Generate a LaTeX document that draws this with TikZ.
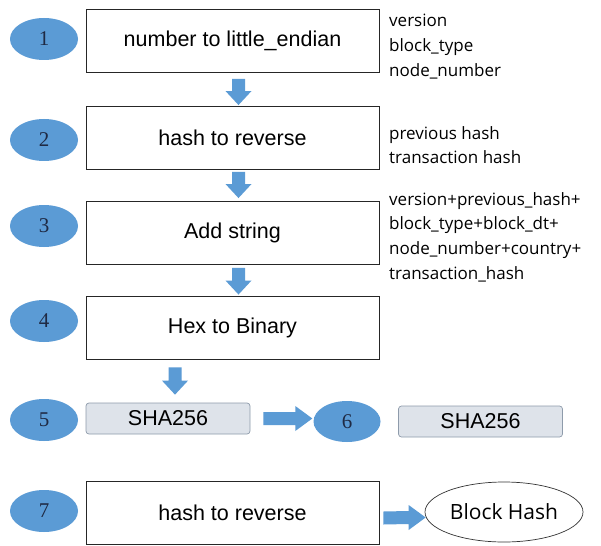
\documentclass[tikz,border=0pt]{standalone}
\usepackage{fontspec}
\setmainfont{Liberation Sans}
\newfontfamily\numfont{Liberation Serif}
\newfontfamily\sidefont{Open Sans}
\usetikzlibrary{calc,shapes.geometric}
\definecolor{ablue}{HTML}{5B9BD5}
\definecolor{numcol}{HTML}{1F2A44}
\definecolor{shafill}{HTML}{DEE3EA}
\definecolor{shaline}{HTML}{8E9BAB}
\tikzset{
  stepbox/.style={draw=black!85, line width=0.9pt, fill=white, minimum width=293pt, minimum height=63pt, inner sep=0pt, font=\fontsize{21.5}{24}\selectfont},
  numell/.style={ellipse, fill=ablue, minimum width=68pt, minimum height=42pt, inner sep=0pt, text=numcol, font=\numfont\fontsize{21}{24}\selectfont},
  shabox/.style={draw=shaline, line width=0.7pt, fill=shafill, rounded corners=3pt, minimum width=164pt, minimum height=31pt, inner sep=0pt, font=\fontsize{21.5}{24}\selectfont},
  sidetext/.style={anchor=north west, align=left, inner sep=0pt, font=\sidefont\fontsize{17}{24.7}\selectfont},
  downarrow/.style={fill=ablue, to path={
    ($(\tikztostart)+(-6.5,0)$) -- ($(\tikztotarget)+(-6.5,-14)$) -- ($(\tikztotarget)+(-13,-14)$) -- (\tikztotarget) -- ($(\tikztotarget)+(13,-14)$) -- ($(\tikztotarget)+(6.5,-14)$) -- ($(\tikztostart)+(6.5,0)$) -- cycle}},
  rightarrow/.style={fill=ablue, to path={
    ($(\tikztostart)+(0,-6.5)$) -- ($(\tikztotarget)+(-17,-6.5)$) -- ($(\tikztotarget)+(-17,-12.5)$) -- (\tikztotarget) -- ($(\tikztotarget)+(-17,12.5)$) -- ($(\tikztotarget)+(-17,6.5)$) -- ($(\tikztostart)+(0,6.5)$) -- cycle}}
}
\begin{document}
\begin{tikzpicture}[x=1pt,y=-1pt]
\useasboundingbox (0,0) rectangle (601,545);
\fill[white] (0,0) rectangle (601,545);

% step boxes
\node[stepbox] (b1) at (232.5,41) {number to little\_endian};
\node[stepbox] (b2) at (232.5,138) {hash to reverse};
\node[stepbox] (b3) at (232.5,233) {Add string};
\node[stepbox] (b4) at (232.5,327.5) {Hex to Binary};
\node[stepbox] (b7) at (232.5,512.5) {hash to reverse};

% SHA boxes
\node[shabox] (s5) at (168,418.5) {SHA256};
\node[shabox] (s6) at (480.5,421.5) {SHA256};

% number ellipses
\node[numell] (e1) at (44,39) {1};
\node[numell] (e2) at (44,140) {2};
\node[numell] (e3) at (44,226) {3};
\node[numell] (e4) at (44,321) {4};
\node[numell] (e5) at (44,420) {5};
\node[numell, minimum width=67pt, minimum height=41pt] (e6) at (347,421.5) {6};
\node[numell] (e7) at (44,511) {7};

% block hash
\node[ellipse, draw=black!80, line width=0.7pt, fill=white, minimum width=158pt, minimum height=60pt, inner sep=0pt, font=\sidefont\fontsize{21}{24}\selectfont] (bh) at (504,512) {Block Hash};

% side notes
\node[sidetext] (n1) at (389,14) {version\\block\_type\\node\_number};
\node[sidetext] (n2) at (389,126) {previous hash\\transaction hash};
\node[sidetext] (n3) at (389,192) {version+previous\_hash+\\block\_type+block\_dt+\\node\_number+country+\\transaction\_hash};

% block arrows
\coordinate (a1s) at ($(b1.south)+(6,6)$);
\coordinate (a1e) at ($(b2.north)+(6,-1)$);
\coordinate (a2s) at ($(b2.south)+(6,2)$);
\coordinate (a2e) at ($(b3.north)+(6,-3)$);
\coordinate (a3s) at ($(b3.south)+(6,3)$);
\coordinate (a3e) at ($(b4.north)+(6,-1)$);
\coordinate (a4s) at ($(b4.south)+(-57.5,8)$);
\coordinate (a4e) at ($(s5.north)+(7,-8)$);
\coordinate (a5s) at ($(s5.east)+(13,0)$);
\coordinate (a5e) at ($(e6.west)+(-1,-3)$);
\coordinate (a7s) at ($(b7.east)+(4,5.5)$);
\coordinate (a7e) at ($(bh.west)+(1,5.5)$);
\path[downarrow] (a1s) to (a1e);
\path[downarrow] (a2s) to (a2e);
\path[downarrow] (a3s) to (a3e);
\path[downarrow] (a4s) to (a4e);
\path[rightarrow] (a5s) to (a5e);
\path[rightarrow] (a7s) to (a7e);
\end{tikzpicture}
\end{document}
